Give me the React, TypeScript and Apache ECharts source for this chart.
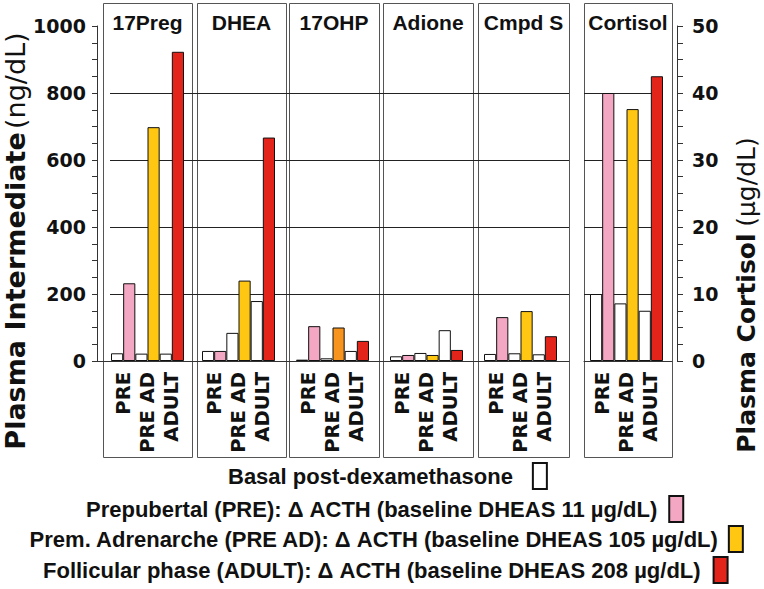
import React, { useEffect, useRef } from 'react';
import * as echarts from 'echarts';

const categories = ['PRE', 'PRE AD', 'ADULT'];
const panelNames = ['17Preg', 'DHEA', '17OHP', 'Adione', 'Cmpd S', 'Cortisol'];

// basal post-dexamethasone values, then delta-ACTH values (PRE, PRE AD, ADULT)
const preg17Basal = [23, 22, 22];
const preg17Acth = [232, 698, 923];
const dheaBasal = [30, 84, 179];
const dheaActh = [30, 240, 667];
const ohp17Basal = [4, 8, 30];
const ohp17Acth = [104, 100, 60];
const adioneBasal = [14, 24, 92];
const adioneActh = [18, 18, 33];
const cmpdSBasal = [21, 23, 20];
const cmpdSActh = [131, 149, 74];
const cortisolBasal = [10.0, 8.6, 7.5];
const cortisolActh = [40.0, 37.6, 42.5];

const intermediateTicks = [0, 200, 400, 600, 800, 1000];
const cortisolTicks = [0, 10, 20, 30, 40, 50];

const legendNames = [
  'Basal post-dexamethasone',
  'Prepubertal (PRE): \u0394 ACTH (baseline DHEAS 11 \u00b5g/dL)',
  'Prem. Adrenarche (PRE AD): \u0394 ACTH (baseline DHEAS 105 \u00b5g/dL)',
  'Follicular phase (ADULT): \u0394 ACTH (baseline DHEAS 208 \u00b5g/dL)',
];

const groupColors = ['#F4A7C3', '#FFC712', '#E3241B'];
const ohpPreAdColor = '#F7941D';

// layout
const TOP = 26;
const H = 335;
const panelBoxes = [
  [103, 192], [197, 286], [289, 379], [383, 473], [478, 569], [584, 672],
];
const barLefts = [111, 202, 296, 390, 484, 590];
const BAR_W = 73;

const AXIS_FONT = 'DejaVu Sans';
const SANS = 'Liberation Sans';
const INK = '#111';

export default function App() {
  const ref = useRef<HTMLDivElement>(null);
  useEffect(() => {
    if (!ref.current) return;
    const chart = echarts.init(ref.current, undefined, { renderer: 'svg' });

    const panelData = [
      { basal: preg17Basal, acth: preg17Acth, max: 1000 },
      { basal: dheaBasal, acth: dheaActh, max: 1000 },
      { basal: ohp17Basal, acth: ohp17Acth, max: 1000, special: 1 },
      { basal: adioneBasal, acth: adioneActh, max: 1000 },
      { basal: cmpdSBasal, acth: cmpdSActh, max: 1000 },
      { basal: cortisolBasal, acth: cortisolActh, max: 50 },
    ];

    const iMax = intermediateTicks[intermediateTicks.length - 1];
    const iInt = intermediateTicks[1] - intermediateTicks[0];
    const cMax = cortisolTicks[cortisolTicks.length - 1];
    const cInt = cortisolTicks[1] - cortisolTicks[0];

    const grids: any[] = [
      { left: 97, top: TOP, width: 472, height: H }, // 0 left axis
      { left: 110, top: TOP, width: 459, height: H }, // 1 left split lines
      { left: 584, top: TOP, width: 93, height: H }, // 2 right axis
      { left: 584, top: TOP, width: 79, height: H }, // 3 right split lines
      { left: 584, top: TOP, width: 88, height: H }, // 4 right baseline
    ];
    barLefts.forEach((l) => grids.push({ left: l, top: TOP, width: BAR_W, height: H }));
    grids.forEach((g) => { g.outerBoundsMode = 'none'; g.containLabel = false; });

    const hiddenX = (gi: number, line = false) => ({
      gridIndex: gi, type: 'value', min: 0, max: 1,
      axisLine: { show: line, onZero: false, lineStyle: { color: '#333', width: 1 } },
      axisTick: { show: false }, axisLabel: { show: false }, splitLine: { show: false },
    });

    const xAxes: any[] = [
      hiddenX(0, true), hiddenX(1), hiddenX(2), hiddenX(3), hiddenX(4, true),
    ];
    const labelStyle = {
      fontFamily: AXIS_FONT, fontWeight: 'bold', fontSize: 19, color: INK,
      formatter: (v: number) => String(v),
    };
    const yAxes: any[] = [
      {
        gridIndex: 0, type: 'value', position: 'left', min: 0, max: iMax, interval: iInt,
        axisLine: { show: true, onZero: false, lineStyle: { color: '#333' } },
        axisTick: { show: true, length: 5, lineStyle: { color: '#333' } },
        minorTick: { show: true, splitNumber: 4, length: 5, lineStyle: { color: '#333' } },
        axisLabel: { ...labelStyle, margin: 11 },
        splitLine: { show: false },
      },
      {
        gridIndex: 1, type: 'value', min: 0, max: iMax, interval: iInt,
        axisLine: { show: false }, axisTick: { show: false }, axisLabel: { show: false },
        splitLine: { show: true, showMinLine: false, showMaxLine: false, lineStyle: { color: '#222', width: 1 } },
      },
      {
        gridIndex: 2, type: 'value', position: 'right', min: 0, max: cMax, interval: cInt,
        axisLine: { show: true, onZero: false, lineStyle: { color: '#333' } },
        axisTick: { show: true, length: 6, lineStyle: { color: '#333' } },
        minorTick: { show: true, splitNumber: 4, length: 6, lineStyle: { color: '#333' } },
        axisLabel: { ...labelStyle, margin: 15 },
        splitLine: { show: false },
      },
      {
        gridIndex: 3, type: 'value', min: 0, max: cMax, interval: cInt,
        axisLine: { show: false }, axisTick: { show: false }, axisLabel: { show: false },
        splitLine: { show: true, showMinLine: false, showMaxLine: false, lineStyle: { color: '#222', width: 1 } },
      },
      { gridIndex: 4, type: 'value', min: 0, max: cMax, show: false },
    ];

    const series: any[] = [];
    panelData.forEach((pd, p) => {
      const ai = 5 + p;
      xAxes.push({
        gridIndex: ai, type: 'category', data: categories,
        axisLine: { show: false }, axisTick: { show: false }, splitLine: { show: false },
        axisLabel: {
          interval: 0, rotate: 90, margin: 11,
          fontFamily: AXIS_FONT, fontWeight: 'bold', fontSize: 19.5, color: INK,
        },
      });
      yAxes.push({ gridIndex: ai, type: 'value', min: 0, max: pd.max, show: false });
      const common = {
        type: 'bar', xAxisIndex: ai, yAxisIndex: ai, barGap: '0%', barCategoryGap: '0%',
      };
      series.push({
        ...common, name: legendNames[0], stack: 'basal' + p, data: pd.basal,
        itemStyle: { color: '#ffffff', borderColor: '#111', borderWidth: 1 },
      });
      for (let g = 0; g < 3; g++) {
        series.push({
          ...common, name: legendNames[g + 1], stack: 'acth' + p,
          data: categories.map((_, j) => {
            if (j !== g) return '-';
            if (pd.special === g) return { value: pd.acth[j], itemStyle: { color: ohpPreAdColor } };
            return pd.acth[j];
          }),
          itemStyle: { color: groupColors[g], borderColor: '#111', borderWidth: 1 },
        });
      }
    });

    const legendLefts = [228, 86, 28, 43];
    const legendTops = [462, 495, 525, 556];
    const legendGaps = [15, 7, 6, 8];
    const legend = legendNames.map((n, i) => ({
      data: [n], left: legendLefts[i], top: legendTops[i], orient: 'horizontal',
      align: 'right', icon: 'rect', itemWidth: 14, itemHeight: 26, padding: 0,
      selectedMode: false,
      textStyle: {
        fontFamily: SANS, fontWeight: 'bold', fontSize: 22, color: INK,
        padding: [0, legendGaps[i], 0, 0],
      },
    }));

    const graphic: any[] = [];
    panelBoxes.forEach(([l, r], i) => {
      graphic.push({
        type: 'rect', silent: true, z: 0,
        shape: { x: l + 0.5, y: 3.5, width: r - l, height: 454 },
        style: { fill: 'none', stroke: '#555', lineWidth: 1 },
      });
      graphic.push({
        type: 'text', silent: true, x: (l + r) / 2, y: 22,
        style: {
          text: panelNames[i], fontFamily: SANS, fontWeight: 'bold', fontSize: 21,
          fill: INK, align: 'center', verticalAlign: 'middle',
        },
      });
    });
    graphic.push({
      type: 'text', silent: true, x: 15, y: 241, rotation: Math.PI / 2,
      style: {
        text: '{b|Plasma Intermediate} {n|(ng/dL)}', align: 'center', verticalAlign: 'middle', fill: INK,
        rich: {
          b: { fontFamily: AXIS_FONT, fontWeight: 'bold', fontSize: 27, fill: INK },
          n: { fontFamily: AXIS_FONT, fontWeight: 'normal', fontSize: 27, fill: INK },
        },
      },
    });
    graphic.push({
      type: 'text', silent: true, x: 746, y: 295, rotation: Math.PI / 2,
      style: {
        text: '{b|Plasma Cortisol}  {n|(\u00b5g/dL)}', align: 'center', verticalAlign: 'middle', fill: INK,
        rich: {
          b: { fontFamily: AXIS_FONT, fontWeight: 'bold', fontSize: 25, fill: INK },
          n: { fontFamily: AXIS_FONT, fontWeight: 'normal', fontSize: 25, fill: INK },
        },
      },
    });

    chart.setOption({
      animation: false,
      backgroundColor: '#ffffff',
      grid: grids,
      xAxis: xAxes,
      yAxis: yAxes,
      series,
      legend,
      graphic,
    });
    return () => chart.dispose();
  }, []);
  return (
    <div
      ref={ref}
      style={{ position: 'absolute', left: 0, top: 0, width: 764, height: 589 }}
    />
  );
}
